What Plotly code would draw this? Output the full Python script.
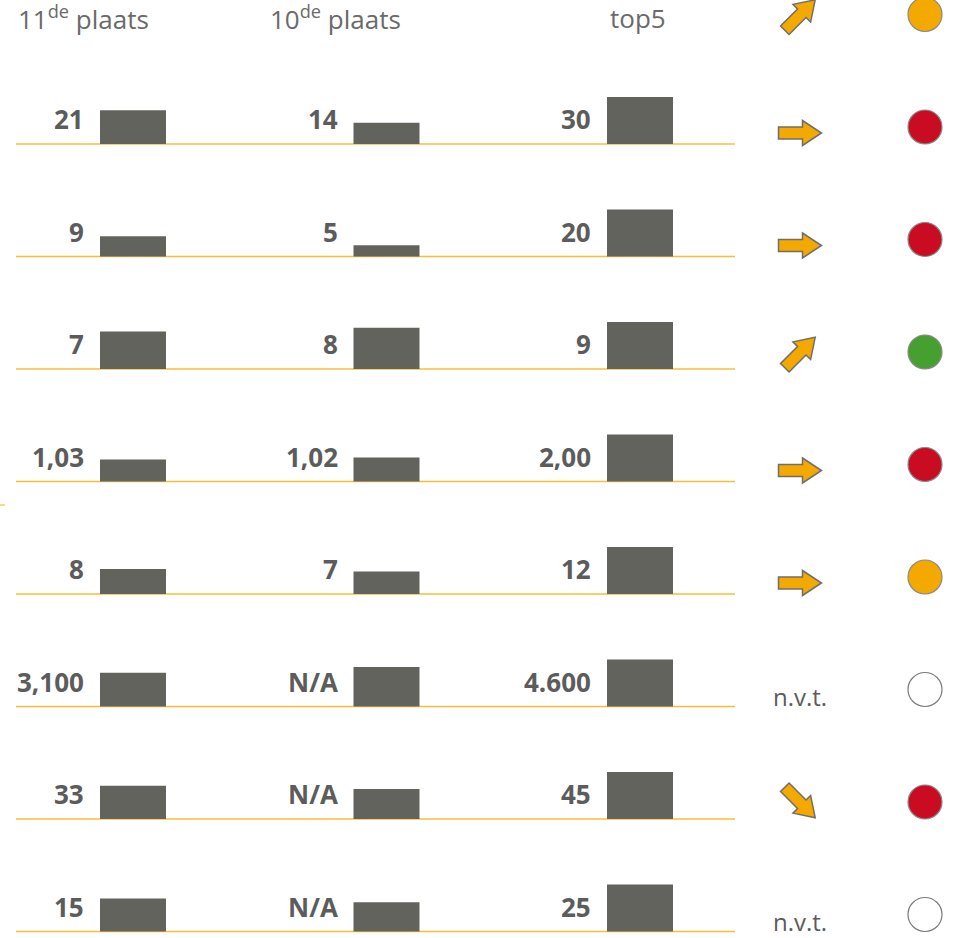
import numpy as np
import plotly.graph_objects as go

# ---------------- data ----------------
column_titles = ["11<sup>de</sup> plaats", "10<sup>de</sup> plaats", "top5"]

labels_11de = ["21", "9", "7", "1,03", "8", "3,100", "33", "15"]
labels_10de = ["14", "5", "8", "1,02", "7", "N/A", "N/A", "N/A"]
labels_top5 = ["30", "20", "9", "2,00", "12", "4.600", "45", "25"]

# bar heights (relative, top5 bar = 100)
bars_11de = [72, 43, 80, 47, 53, 72, 71, 70]
bars_10de = [45, 24, 88, 51, 48, 84, 64, 62]
bars_top5 = [100, 100, 100, 100, 100, 100, 100, 100]

# first entry belongs to the header row
trend = ["up", "right", "right", "up", "right", "right", "n.v.t.", "down", "n.v.t."]
status = ["orange", "red", "red", "green", "red", "orange", "none", "red", "none"]

# ---------------- layout constants ----------------
W, H = 974, 938
PXY = 0.47             # pixels per bar unit
ROW_PX = 112.5         # row pitch in pixels
ROW = ROW_PX / PXY
HEAD_PX = 31.5         # pixel position of header baseline
X0_PX, XPITCH = 133.0, 253.5

def xp(px):
    return (px - X0_PX) / XPITCH

n_rows = len(labels_11de)
baselines = [-(r + 1) * ROW for r in range(n_rows)]
all_bases = [0.0] + baselines

BAR_COLOR = "#63635E"
LINE_COLOR = "#F7BE3A"
TXT = "#5C5C5C"
status_colors = {"orange": "#F4A900", "red": "#C90C22", "green": "#46A02F", "none": "#FFFFFF"}

fig = go.Figure()

cols = [(0, bars_11de, labels_11de), (1, bars_10de, labels_10de), (2, bars_top5, labels_top5)]
for ci, vals, labs in cols:
    fig.add_trace(go.Bar(
        x=[ci] * n_rows, y=vals, base=baselines, width=66 / XPITCH,
        marker=dict(color=BAR_COLOR, line=dict(width=0)),
        hoverinfo="skip", showlegend=False))

annotations = []
shapes = []

# baselines
for b in baselines:
    shapes.append(dict(type="line", xref="x", yref="y", x0=xp(16), x1=xp(735), y0=b, y1=b,
                       line=dict(color=LINE_COLOR, width=1.5), layer="below"))
# small stray dash on left edge
shapes.append(dict(type="line", xref="paper", yref="paper", x0=0, x1=5 / W,
                   y0=1 - 505 / H, y1=1 - 505 / H, line=dict(color=LINE_COLOR, width=1.2)))

# value labels
for ci, vals, labs in cols:
    for r in range(n_rows):
        annotations.append(dict(
            x=ci, y=baselines[r], xref="x", yref="y", text=labs[r], showarrow=False,
            xanchor="right", yanchor="middle", xshift=-47, yshift=25,
            font=dict(family="Open Sans", size=26, color=TXT, weight=700)))

# header
head_shift = [-117, -119, -32]
for ci, t in enumerate(column_titles):
    annotations.append(dict(
        x=ci, y=0, xref="x", yref="y", text=t, showarrow=False,
        xanchor="left", yanchor="middle", xshift=head_shift[ci], yshift=14,
        font=dict(family="Open Sans", size=26, color="#6A6A6A")))

# arrows
base_arrow = np.array([[-21.5, -6], [2.5, -6], [2.5, -12.5], [21.5, 0],
                       [2.5, 12.5], [2.5, 6], [-21.5, 6]])
angles = {"right": 0, "up": 45, "down": -45}
ax_x = xp(800)
for b, t in zip(all_bases, trend):
    if t == "n.v.t.":
        annotations.append(dict(
            x=ax_x, y=b, xref="x", yref="y", text="n.v.t.", showarrow=False,
            xanchor="center", yanchor="middle", yshift=10,
            font=dict(family="Open Sans", size=24, color=TXT)))
        continue
    a = np.deg2rad(angles[t])
    rot = np.array([[np.cos(a), -np.sin(a)], [np.sin(a), np.cos(a)]])
    pts = base_arrow @ rot.T
    path = "M " + " L ".join(f"{p[0]:.2f},{p[1]:.2f}" for p in pts) + " Z"
    dy = 11 if t == "right" else 16.5
    shapes.append(dict(type="path", xref="x", yref="y", xsizemode="pixel", ysizemode="pixel",
                       xanchor=ax_x, yanchor=b + dy / PXY, path=path,
                       fillcolor="#F4A900", line=dict(color="#6E6E6E", width=1.5)))

# status circles
fig.add_trace(go.Scatter(
    x=[xp(925)] * len(all_bases), y=[b + 17 / PXY for b in all_bases], mode="markers",
    marker=dict(size=34, color=[status_colors[s] for s in status],
                line=dict(color=["#7A7A7A" if s == "none" else "#8A8A8A" for s in status], width=1.2)),
    hoverinfo="skip", showlegend=False))

fig.update_layout(
    width=W, height=H, margin=dict(l=0, r=0, t=0, b=0),
    paper_bgcolor="white", plot_bgcolor="white", barmode="overlay",
    xaxis=dict(range=[xp(0), xp(W)], visible=False, fixedrange=True),
    yaxis=dict(range=[-(H - HEAD_PX) / PXY, HEAD_PX / PXY], visible=False, fixedrange=True),
    annotations=annotations, shapes=shapes, showlegend=False, hovermode=False)

fig.write_html("out.html", config={"displayModeBar": False, "staticPlot": True},
               post_script="document.body.style.margin='0';document.body.style.overflow='hidden';")
